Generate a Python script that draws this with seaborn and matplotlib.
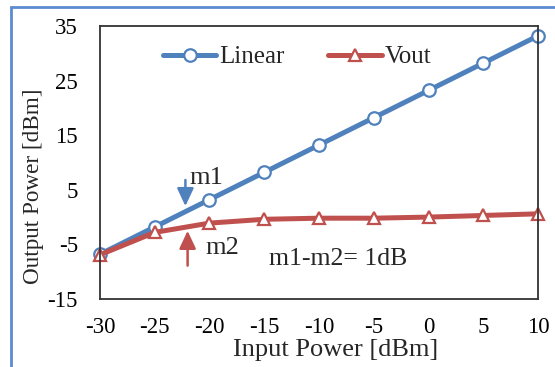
import matplotlib
matplotlib.use("Agg")
import matplotlib.pyplot as plt
import matplotlib.patches as patches
import seaborn as sns

# --- datos ---
input_power = [-30, -25, -20, -15, -10, -5, 0, 5, 10]
linear = [-6.8, -1.8, 3.2, 8.2, 13.2, 18.2, 23.2, 28.2, 33.2]
vout = [-6.9, -2.8, -1.1, -0.4, -0.2, -0.2, 0.0, 0.3, 0.6]
x_ticks = [-30, -25, -20, -15, -10, -5, 0, 5, 10]
y_ticks = [-15, -5, 5, 15, 25, 35]

blue = "#4F81BD"
red = "#C0504D"

sns.set_style("white")
plt.rcParams["font.family"] = ["Liberation Serif", "DejaVu Serif"]
plt.rcParams["axes.unicode_minus"] = False

fig = plt.figure(figsize=(5.55, 3.67), dpi=100)
ax = fig.add_axes([100 / 555, 1 - 299 / 367, 438 / 555, 273 / 367])

sns.lineplot(x=input_power, y=linear, ax=ax, color=blue, linewidth=3.6,
             marker="o", markersize=9, markerfacecolor="white",
             markeredgecolor=blue, markeredgewidth=1.6, label="Linear",
             clip_on=False)
sns.lineplot(x=input_power, y=vout, ax=ax, color=red, linewidth=3.6,
             marker="^", markersize=9, markerfacecolor="white",
             markeredgecolor=red, markeredgewidth=1.6, label="Vout",
             clip_on=False)

ax.set_xlim(-30, 10)
ax.set_ylim(-15, 35)
ax.set_xticks(x_ticks)
ax.set_yticks(y_ticks)
ax.tick_params(direction="in", length=6, width=1, colors="#333333",
               labelsize=16.5, labelcolor="black")
ax.tick_params(axis="x", pad=13)
ax.tick_params(axis="y", pad=16)
for s in ax.spines.values():
    s.set_color("#333333")
    s.set_linewidth(1.3)
    s.set_visible(True)

ax.set_xlabel("Input Power [dBm]", fontsize=19)
ax.set_ylabel("Output Power [dBm]", fontsize=16.7)
ax.xaxis.set_label_coords(0.538, -0.148)
ax.yaxis.set_label_coords(-0.128, 0.414)

leg = ax.legend(loc="center left", bbox_to_anchor=(0.143, 0.886), ncol=2,
                frameon=False, fontsize=18, handlelength=2.15,
                handletextpad=0.1, columnspacing=1.75, borderaxespad=0,
                borderpad=0)

# marcadores m1 / m2
ax.annotate("", xy=(-22.2, 1.5), xytext=(-22.2, 7.3),
            arrowprops=dict(arrowstyle="-|>,head_length=0.9,head_width=0.42",
                            color=blue, lw=1.8, mutation_scale=12))
ax.annotate("", xy=(-22.0, -2.0), xytext=(-22.0, -9.4),
            arrowprops=dict(arrowstyle="-|>,head_length=0.9,head_width=0.42",
                            color=red, lw=1.8, mutation_scale=12))
ax.text(-21.8, 7.2, "m1", fontsize=19, va="center", ha="left")
ax.text(-20.4, -5.6, "m2", fontsize=19, va="center", ha="left")
ax.text(-14.6, -7.6, "m1-m2= 1dB", fontsize=18.5, va="center", ha="left")

# marco azul exterior
fig.patches.append(patches.Rectangle((11 / 555, -0.2), 1.2, 1.2 - 7 / 367,
                                     transform=fig.transFigure, fill=False,
                                     edgecolor="#5B8BD0", linewidth=2))

fig.savefig("out.png", dpi=100)
